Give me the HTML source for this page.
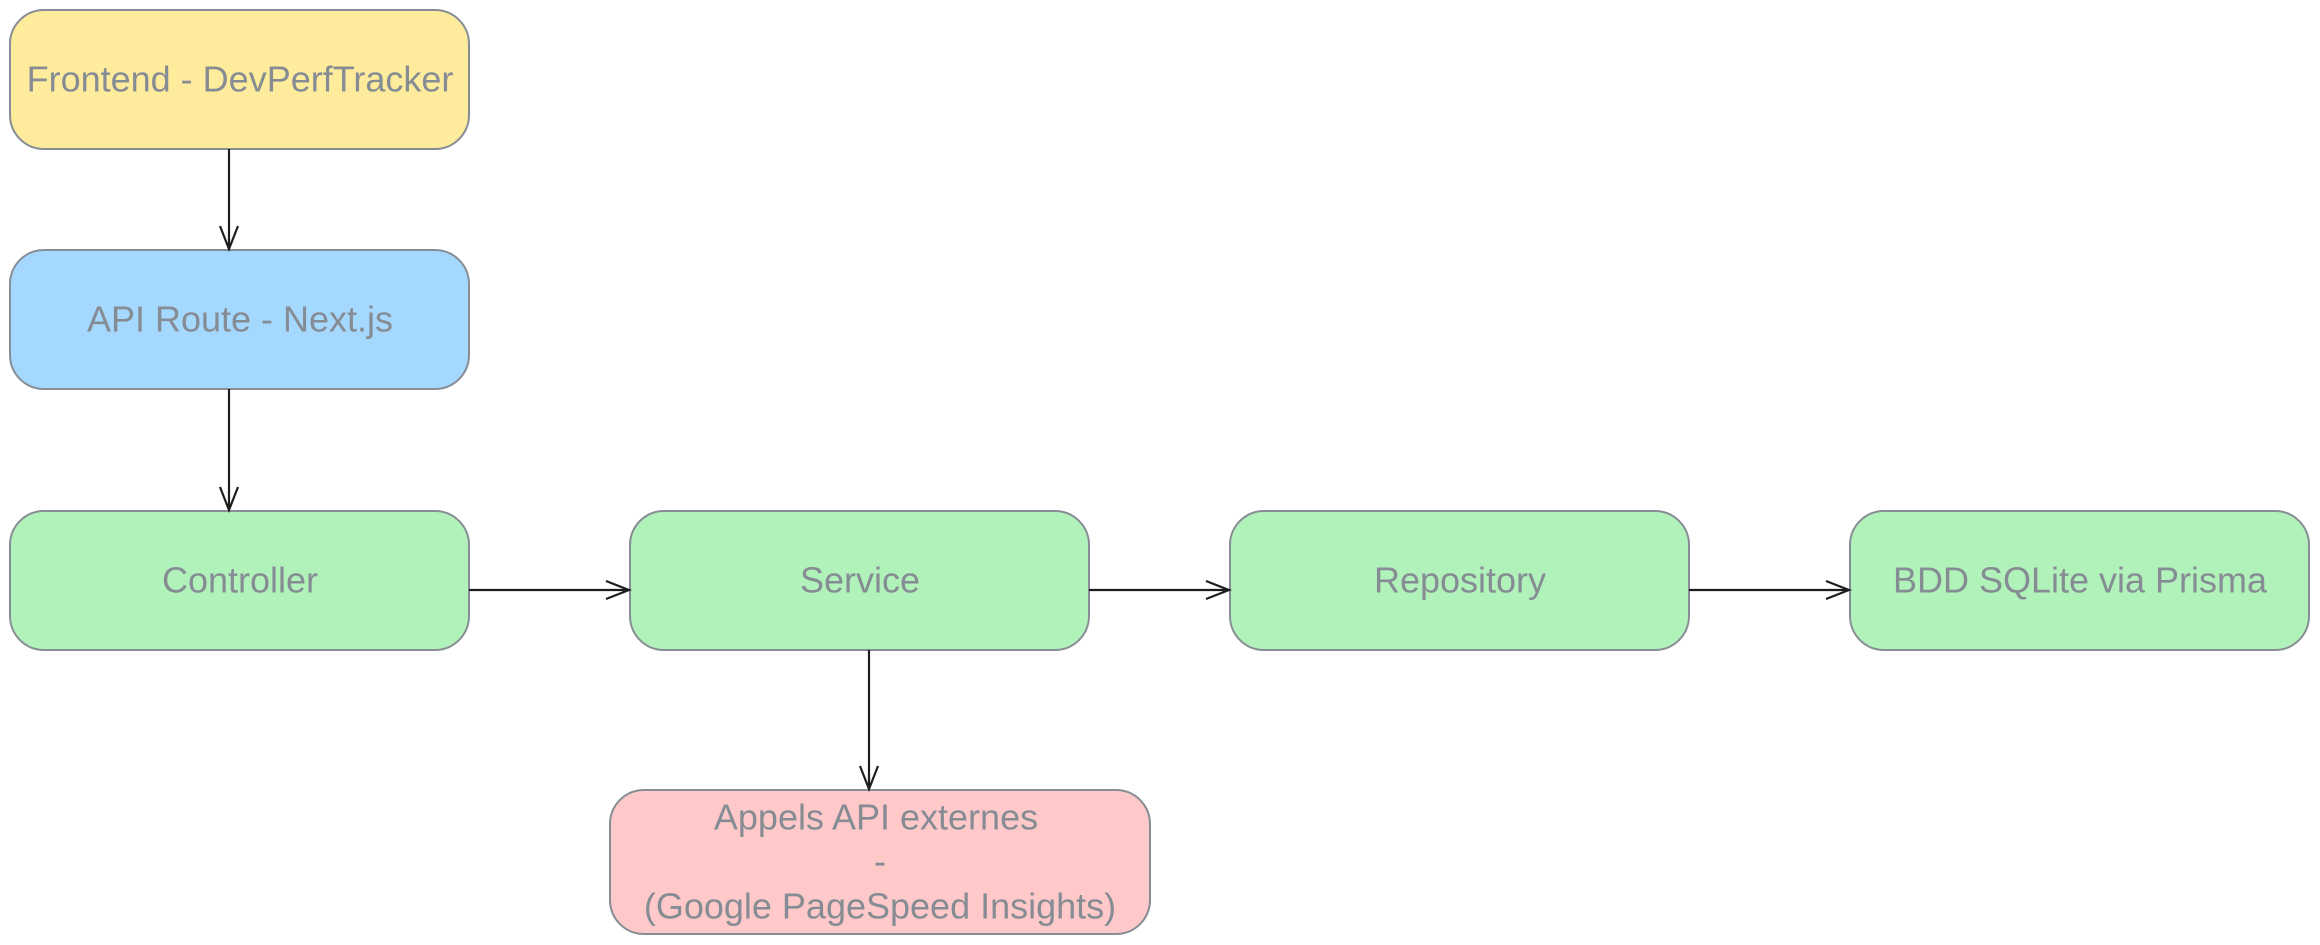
<!DOCTYPE html>
<html><head><meta charset="utf-8"><style>
html,body{margin:0;padding:0;background:#fff;width:2320px;height:945px;overflow:hidden}
svg{display:block}
text{font-family:"Liberation Sans",sans-serif;font-size:36px;fill:#868c93;text-anchor:middle;dominant-baseline:central}
</style></head><body>
<svg width="2320" height="945" viewBox="0 0 2320 945">
<g stroke="#878d95" stroke-width="2">
<rect x="10" y="10" width="459" height="139" rx="34" fill="#feeb9b"/>
<rect x="10" y="250" width="459" height="139" rx="34" fill="#a5d8fe"/>
<rect x="10" y="511" width="459" height="139" rx="34" fill="#b1f2bb"/>
<rect x="630" y="511" width="459" height="139" rx="34" fill="#b1f2bb"/>
<rect x="1230" y="511" width="459" height="139" rx="34" fill="#b1f2bb"/>
<rect x="1850" y="511" width="459" height="139" rx="34" fill="#b1f2bb"/>
<rect x="610" y="790" width="540" height="144" rx="34" fill="#ffc9c9"/>
</g>
<g stroke="#1e1e1e" stroke-width="2.2" fill="none">
<path d="M229 149V249M220 226L229 249L238 226"/>
<path d="M229 389V510M220 487L229 510L238 487"/>
<path d="M469 590H629M606 581L629 590L606 599"/>
<path d="M1089 590H1229M1206 581L1229 590L1206 599"/>
<path d="M1689 590H1849M1826 581L1849 590L1826 599"/>
<path d="M869 650V789M860 766L869 789L878 766"/>
</g>
<text x="240" y="79">Frontend - DevPerfTracker</text>
<text x="240" y="319">API Route - Next.js</text>
<text x="240" y="580">Controller</text>
<text x="860" y="580">Service</text>
<text x="1460" y="580">Repository</text>
<text x="2080" y="580">BDD SQLite via Prisma</text>
<text x="876" y="817">Appels API externes</text>
<text x="880" y="861">-</text>
<text x="880" y="906">(Google PageSpeed Insights)</text>
</svg>
</body></html>
